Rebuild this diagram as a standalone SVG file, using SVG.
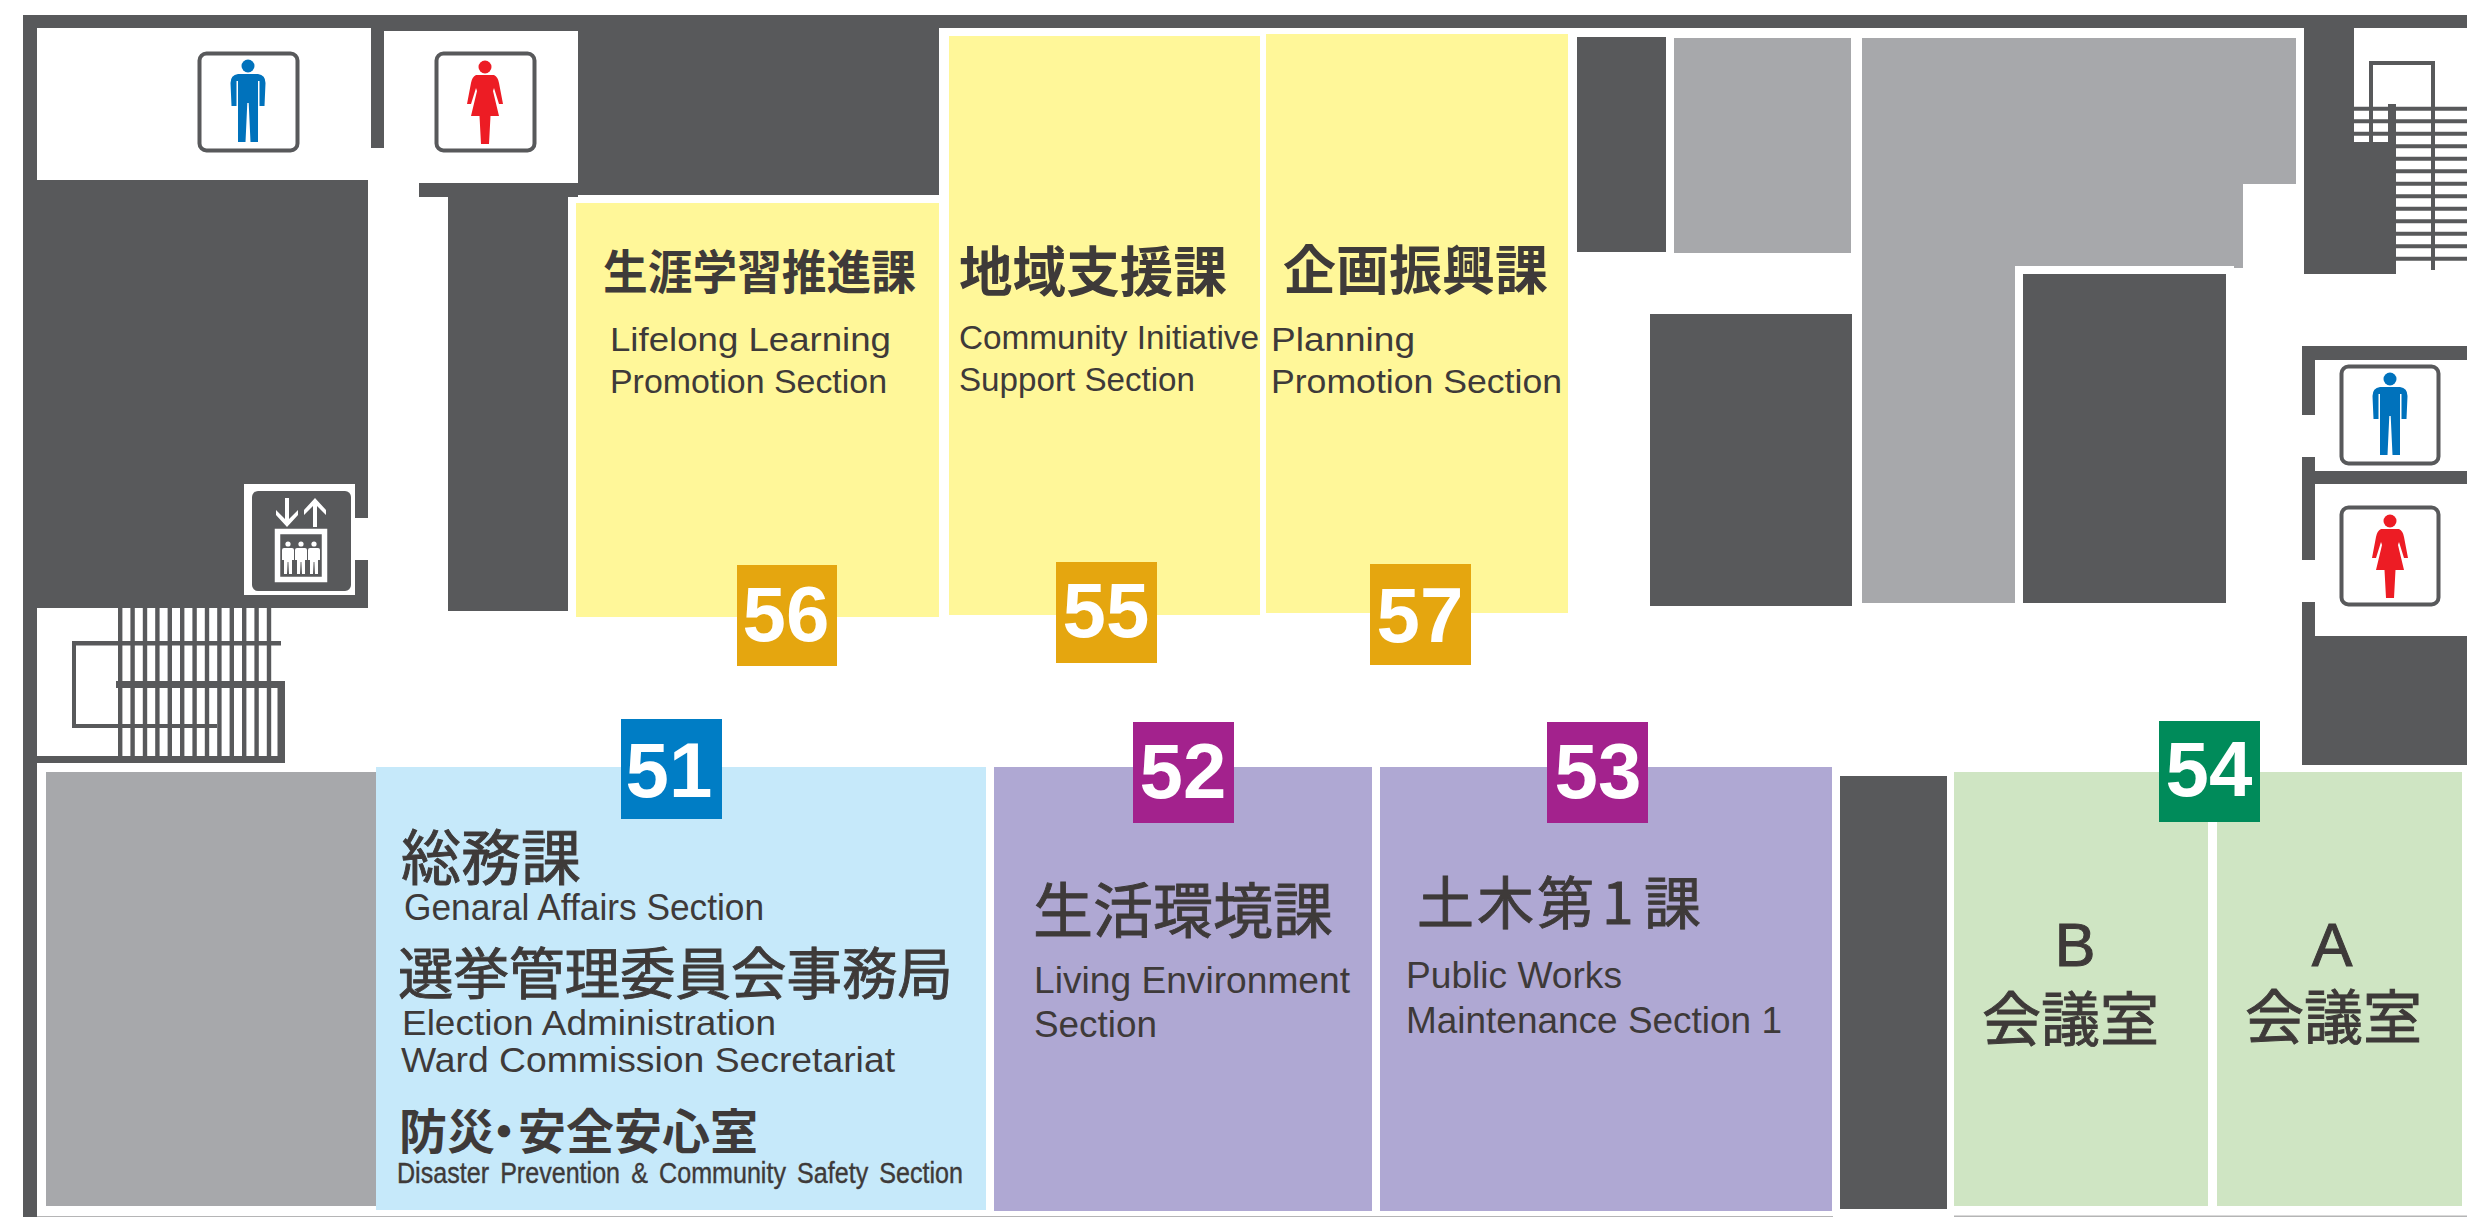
<svg xmlns="http://www.w3.org/2000/svg" width="2467" height="1217" viewBox="0 0 2467 1217">
<defs>
<style>
.d{fill:#58595b}.g{fill:#a7a8ab}.y{fill:#fff799}.b{fill:#c6e9fa}.p{fill:#afa8d3}.n{fill:#cfe5c3}
.sg{fill:#fff;stroke:#58595b;stroke-width:4}
.j{font-family:"Noto Sans CJK JP","Noto Sans",sans-serif;fill:#3e3a39;stroke:#3e3a39;stroke-width:.9px}
.jb{font-weight:700;stroke:none}
.e{font-family:"Liberation Sans",Arial,sans-serif;fill:#3e3a39;font-size:34px}
.e36{font-size:36px}.e37{font-size:37px}.e35{font-size:35px}
.e30{font-size:30px;word-spacing:5px;stroke:#3e3a39;stroke-width:.4px}
.big{font-size:61px;stroke:#3e3a39;stroke-width:1px;text-anchor:middle}
.num{font-family:"Liberation Sans",Arial,sans-serif;font-weight:700;font-size:78px;fill:#fff;text-anchor:middle}
</style>
<g id="man"><circle cx="0" cy="-36" r="6.500"/><path d="M-10 -28H10Q17.500 -27 17.500 -19L16.500 4H11.500V-21H10V40H2.500L0.700 1H-0.700L-2.500 40H-10V-21H-11.500V4H-16.500L-17.500 -19Q-17.500 -27 -10 -28Z"/></g>
<g id="woman"><circle cx="0" cy="-36" r="6.500"/><path d="M-9 -28H9Q13 -26 14 -20L18 1H14L9 -15L8 -12L14 13H5.500L4 41H-4L-5.500 13H-14L-8 -12L-9 -15L-14 1H-18L-14 -20Q-13 -26 -9 -28Z"/></g>
<g id="lift-person"><circle cy="-12" r="2.600"/><path d="M-4 -8H4Q6 -8 6 -6V4H4V18H1L0.400 6H-0.400L-1 18H-4V4H-6V-6Q-6 -8 -4 -8Z"/></g>
</defs>
<rect width="2467" height="1217" fill="#fff"/>
<g id="walls">
<rect class="d" x="23" y="15" width="2444" height="13"/>
<rect class="d" x="23" y="15" width="14" height="1202"/>
<rect class="d" x="371" y="28" width="13" height="120"/>
<rect class="d" x="578" y="28" width="361" height="167"/>
<rect class="d" x="384" y="15" width="555" height="16"/>
<rect class="d" x="419" y="183" width="159" height="14"/>
<rect class="d" x="448" y="190" width="120" height="421"/>
<path class="d" d="M23 180H368V518H355V484H244V595H355V560H368V608H23Z"/>
<rect class="d" x="37" y="756" width="248" height="7"/>
<rect x="37" y="1216" width="1796" height="1" fill="#b5b5b6"/>
<rect x="1954" y="1215.500" width="513" height="1.500" fill="#b5b5b6"/>
<path class="d" d="M2304 28H2354V142H2396V274H2304Z"/>
<path class="d" d="M2302 346H2467V360H2315V415H2302Z"/>
<path class="d" d="M2302 457H2315V471H2467V484H2315V560H2302Z"/>
<path class="d" d="M2302 602H2315V636H2467V765H2302Z"/>
</g>
<g id="stairs-left" class="d">
<path class="d" d="M118 608h4.400v148h-4.400zM130.400 608h4.400v148h-4.400zM142.800 608h4.400v148h-4.400zM155.200 608h4.400v148h-4.400zM167.600 608h4.400v148h-4.400zM180 608h4.400v148h-4.400zM192.400 608h4.400v148h-4.400zM204.800 608h4.400v148h-4.400zM217.200 608h4.400v148h-4.400zM229.600 608h4.400v148h-4.400zM242 608h4.400v148h-4.400zM254.400 608h4.400v148h-4.400zM266.800 608h4.400v148h-4.400z"/>
<rect x="72" y="641" width="209" height="4.500"/>
<rect x="72" y="641" width="4" height="87"/>
<rect x="72" y="724" width="145" height="4"/>
<rect x="116" y="681" width="169" height="7"/>
<rect x="277.500" y="681" width="7.500" height="82"/>
</g>
<g id="stairs-right" class="d">
<path class="d" d="M2354 106.700H2467v4H2354zM2354 119.200H2467v4H2354zM2354 131.700H2467v4H2354zM2396 144.200H2467v4H2396zM2396 156.700H2467v4H2396zM2396 169.200H2467v4H2396zM2396 181.700H2467v4H2396zM2396 194.200H2467v4H2396zM2396 206.700H2467v4H2396zM2396 219.200H2467v4H2396zM2396 231.700H2467v4H2396zM2396 244.200H2467v4H2396zM2396 256.700H2467v4H2396z"/>
<rect x="2369" y="61" width="66" height="4"/>
<rect x="2369" y="61" width="4" height="81"/>
<rect x="2431" y="61" width="4" height="209"/>
<rect x="2388" y="104" width="8" height="38"/>
</g>
<g id="core">
<rect class="g" x="46" y="772" width="330" height="434"/>
<rect class="d" x="1577" y="37" width="89" height="215"/>
<rect class="g" x="1674" y="38" width="177" height="215"/>
<path class="g" d="M1862 38H2296V184H2243V268H2234V266H2015V603H1862Z"/>
<rect class="d" x="1650" y="314" width="202" height="292"/>
<rect class="d" x="2023" y="274" width="203" height="329"/>
<rect class="d" x="1840" y="776" width="107" height="433"/>
</g>
<g id="sign-men-1"><rect class="sg" x="199.500" y="53.500" width="98" height="97" rx="7"/><use href="#man" x="248" y="102" fill="#0072bc"/></g>
<g id="sign-women-1"><rect class="sg" x="436.500" y="53.500" width="98" height="97" rx="7"/><use href="#woman" x="485" y="103" fill="#ed1c24"/></g>
<g id="sign-men-2"><rect class="sg" x="2341.500" y="366.500" width="97" height="97" rx="7"/><use href="#man" x="2390" y="415" fill="#0072bc"/></g>
<g id="sign-women-2"><rect class="sg" x="2341.500" y="507.500" width="97" height="97" rx="7"/><use href="#woman" x="2390" y="557" fill="#ed1c24"/></g>
<g id="elevator">
<rect class="d" x="252" y="491" width="99" height="100" rx="6"/>
<path fill="#fff" d="M285 498h4v21l9-9v5l-11 12-11-12v-5l9 9z"/>
<path fill="#fff" d="M313 527h4v-21l9 9v-5l-11-12-11 12v5l9-9z"/>
<rect x="277.500" y="531.500" width="47" height="48" fill="none" stroke="#fff" stroke-width="5.500"/>
<use href="#lift-person" x="288" y="556" fill="#fff"/>
<use href="#lift-person" x="301" y="556" fill="#fff"/>
<use href="#lift-person" x="314" y="556" fill="#fff"/>
</g>
<g id="room-56"><rect class="y" x="576" y="203" width="363" height="414"/>
<text class="j jb" x="603" y="289" font-size="47" textLength="313" lengthAdjust="spacingAndGlyphs">生涯学習推進課</text>
<text class="e" x="610" y="351" textLength="281" lengthAdjust="spacingAndGlyphs">Lifelong Learning</text>
<text class="e" x="610" y="393" textLength="277" lengthAdjust="spacingAndGlyphs">Promotion Section</text></g>
<g id="room-55"><rect class="y" x="949" y="36" width="311" height="579"/>
<text class="j jb" x="959" y="292" font-size="54" textLength="268" lengthAdjust="spacingAndGlyphs">地域支援課</text>
<text class="e" x="959" y="349" textLength="300" lengthAdjust="spacingAndGlyphs">Community Initiative</text>
<text class="e" x="959" y="391" textLength="236" lengthAdjust="spacingAndGlyphs">Support Section</text></g>
<g id="room-57"><rect class="y" x="1266" y="34" width="302" height="579"/>
<text class="j jb" x="1283" y="290" font-size="53">企画振興課</text>
<text class="e" x="1271" y="351" textLength="144" lengthAdjust="spacingAndGlyphs">Planning</text>
<text class="e" x="1271" y="393" textLength="291" lengthAdjust="spacingAndGlyphs">Promotion Section</text></g>
<g id="room-51"><rect class="b" x="376" y="767" width="610" height="443"/>
<text class="j" x="401" y="880" font-size="60">総務課</text>
<text class="e e37" x="404" y="920" textLength="360" lengthAdjust="spacingAndGlyphs">Genaral Affairs Section</text>
<text class="j" x="398" y="994" font-size="55.500">選挙管理委員会事務局</text>
<text class="e e35" x="402" y="1035" textLength="374" lengthAdjust="spacingAndGlyphs">Election Administration</text>
<text class="e e35" x="401" y="1072" textLength="494" lengthAdjust="spacingAndGlyphs">Ward Commission Secretariat</text>
<text class="j jb" x="399 447 480 518 566 614 662 710" y="1149" font-size="48">防災・安全安心室</text>
<text class="e e30" x="397" y="1183" textLength="566" lengthAdjust="spacingAndGlyphs">Disaster Prevention &amp; Community Safety Section</text></g>
<g id="room-52"><rect class="p" x="994" y="767" width="378" height="444"/>
<text class="j" x="1033" y="933" font-size="60">生活環境課</text>
<text class="e e36" x="1034" y="992.500" textLength="316" lengthAdjust="spacingAndGlyphs">Living Environment</text>
<text class="e e36" x="1034" y="1037" textLength="123" lengthAdjust="spacingAndGlyphs">Section</text></g>
<g id="room-53"><rect class="p" x="1380" y="767" width="452" height="444"/>
<text class="j" x="1417 1477 1537 1602 1644" y="924" font-size="57">土木第1課</text>
<text class="e e36" x="1406" y="987.500" textLength="216" lengthAdjust="spacingAndGlyphs">Public Works</text>
<text class="e e36" x="1406" y="1033" textLength="376" lengthAdjust="spacingAndGlyphs">Maintenance Section 1</text></g>
<g id="room-b"><rect class="n" x="1954" y="772" width="254" height="434"/>
<text class="e big" x="2075" y="966">B</text>
<text class="j" x="1982" y="1041" font-size="59">会議室</text></g>
<g id="room-a"><rect class="n" x="2217" y="772" width="245" height="434"/>
<text class="e big" x="2332" y="966">A</text>
<text class="j" x="2245" y="1039" font-size="59">会議室</text></g>
<g id="badge-56"><rect x="737" y="565" width="100" height="101" fill="#e5a60f"/><text class="num" x="786" y="641">56</text></g>
<g id="badge-55"><rect x="1056" y="562" width="101" height="101" fill="#e5a60f"/><text class="num" x="1106" y="637">55</text></g>
<g id="badge-57"><rect x="1370" y="564" width="101" height="101" fill="#e5a60f"/><text class="num" x="1420" y="642">57</text></g>
<g id="badge-51"><rect x="621" y="719" width="101" height="100" fill="#007dc5"/><text class="num" x="669" y="797">51</text></g>
<g id="badge-52"><rect x="1133" y="722" width="101" height="101" fill="#a3228d"/><text class="num" x="1183" y="798">52</text></g>
<g id="badge-53"><rect x="1547" y="722" width="101" height="101" fill="#a3228d"/><text class="num" x="1598" y="798">53</text></g>
<g id="badge-54"><rect x="2159" y="721" width="101" height="101" fill="#008b5a"/><text class="num" x="2209" y="796">54</text></g>
<g id="connectors"/>
</svg>
